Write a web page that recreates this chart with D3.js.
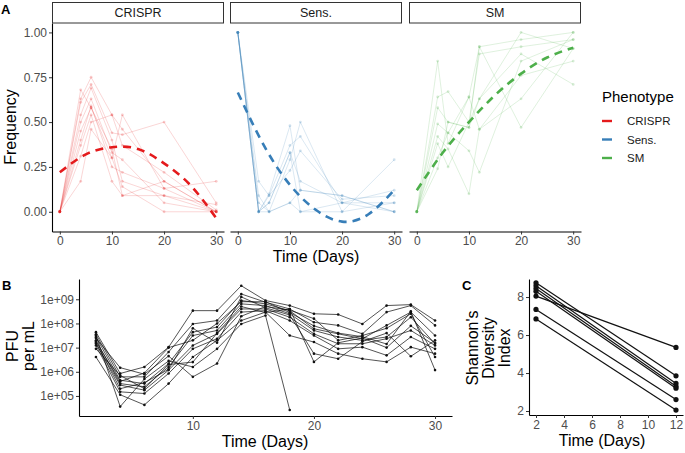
<!DOCTYPE html>
<html>
<head>
<meta charset="utf-8">
<script src="https://cdn.jsdelivr.net/npm/d3@7"></script>
<style>
  body { margin: 0; background: #fff; }
  svg { font-family: "Liberation Sans", Arial, sans-serif; }
</style>
</head>
<body>
<svg id="chart" width="685" height="453"></svg>
<script>
// ---- panel A data: phenotype frequency per replicate
var sampleDays = [0, 4, 6, 10, 12, 20, 30];
var phenotypes = ["CRISPR", "Sens.", "SM"];
var phenoColors = ["#E41A1C", "#377EB8", "#4DAF4A"];

var crisprRuns = [
  [0, 0.68, 0.58, 0.30, 0.54, 0.13, 0.00],
  [0, 0.63, 0.75, 0.54, 0.46, 0.17, 0.00],
  [0, 0.61, 0.71, 0.44, 0.43, 0.50, 0.05],
  [0, 0.54, 0.69, 0.40, 0.17, 0.09, 0.00],
  [0, 0.50, 0.63, 0.33, 0.29, 0.05, 0.00],
  [0, 0.40, 0.59, 0.25, 0.22, 0.13, 0.17],
  [0, 0.37, 0.54, 0.17, 0.09, 0.17, 0.00],
  [0, 0.31, 0.50, 0.54, 0.37, 0.22, 0.01],
  [0, 0.17, 0.46, 0.30, 0.14, 0.00, 0.00],
  [0, 0.45, 0.58, 0.35, 0.09, 0.09, 0.04]
];
var sensRuns = [
  [1, 0.00, 0.09, 0.37, 0.42, 0.05, 0.00],
  [1, 0.00, 0.05, 0.33, 0.17, 0.05, 0.12],
  [1, 0.05, 0.00, 0.05, 0.00, 0.00, 0.05],
  [1, 0.00, 0.10, 0.48, 0.12, 0.09, 0.00],
  [1, 0.09, 0.00, 0.29, 0.50, 0.00, 0.29],
  [1, 0.17, 0.09, 0.23, 0.34, 0.07, 0.09],
  [1, 0.00, 0.00, 0.05, 0.12, 0.09, 0.00],
  [1, 0.00, 0.05, 0.33, 0.00, 0.05, 0.05]
];
var smRuns = [
  [0, 0.84, 0.38, 0.64, 0.92, 0.96, 1.00],
  [0, 0.64, 0.67, 0.50, 0.88, 0.92, 0.96],
  [0, 0.58, 0.50, 0.47, 0.63, 1.00, 0.91],
  [0, 0.49, 0.44, 0.34, 0.22, 0.84, 0.96],
  [0, 0.42, 0.35, 0.10, 0.46, 0.76, 0.84],
  [0, 0.38, 0.25, 0.50, 0.63, 0.88, 0.71],
  [0, 0.24, 0.50, 0.47, 0.92, 0.47, 0.91],
  [0, 0.30, 0.44, 0.64, 0.46, 0.63, 1.00]
];

// smooth trend per phenotype
var fitDays = [0, 5, 10, 15, 20, 25, 30];
var crisprFit = [0.22, 0.32, 0.36, 0.35, 0.27, 0.15, -0.035];
var sensFit = [0.665, 0.37, 0.15, 0.01, -0.055, -0.015, 0.12];
var smFit = [0.12, 0.33, 0.50, 0.65, 0.77, 0.86, 0.915];

// ---- panel B data: log10 PFU per mL, days 2..30
var pfuDays = [2, 4, 6, 8, 10, 12, 14, 16, 18, 20, 22, 24, 26, 28, 30];
var pfuLog = [
  [7.64, 5.93, 6.20, 7.02, 8.53, 8.53, 9.56, 8.95, 8.74, 8.40, 8.37, 7.98, 8.74, 8.78, 8.12],
  [7.55, 5.79, 5.79, 6.82, 7.98, 8.12, 9.22, 8.88, 8.60, 8.05, 7.92, 7.57, 8.47, 8.74, 7.92],
  [7.44, 5.65, 5.51, 6.34, 7.64, 7.85, 8.95, 8.81, 8.53, 7.78, 7.57, 7.37, 7.92, 8.47, 7.50],
  [7.30, 5.51, 5.38, 6.20, 7.50, 7.71, 8.81, 8.74, 8.40, 7.71, 7.44, 7.30, 7.44, 8.26, 7.16],
  [7.16, 5.45, 5.24, 6.07, 7.09, 7.57, 8.60, 8.60, 8.26, 7.57, 7.16, 7.16, 7.37, 7.71, 7.09],
  [7.09, 5.17, 5.10, 5.93, 6.95, 7.37, 8.47, 8.53, 8.12, 7.50, 6.95, 7.02, 6.68, 7.44, 6.95],
  [6.61, 5.05, 4.63, 5.51, 6.61, 7.30, 8.12, 8.47, 7.50, 7.23, 6.75, 6.54, 6.41, 7.02, 6.75],
  [7.50, 4.56, 5.70, 6.45, 6.20, 6.95, 7.98, 8.33, 4.42],
  [7.40, 6.17, 5.90, 6.65, 5.79, 6.34, 8.30, 8.70, 8.55, 8.20, 7.30, 7.50, 7.80, 8.40, 6.61],
  [7.25, 5.60, 5.95, 7.00, 7.30, 8.00, 8.90, 8.90, 8.45, 7.90, 7.60, 7.45, 7.15, 8.50, 6.07],
  [7.20, 5.30, 5.55, 6.10, 7.80, 7.20, 9.10, 8.65, 8.35, 6.75, 6.54, 7.25, 7.60, 6.64, 7.30],
  [6.95, 5.85, 5.30, 6.30, 6.40, 7.60, 8.70, 8.45, 8.60, 6.41, 7.20, 7.40, 7.00, 7.90, 7.20]
];
var pfuTicks = [1e5, 1e6, 1e7, 1e8, 1e9];

// ---- panel C data: Shannon diversity at day 2 and day 12
var divDays = [2, 12];
var divDay2 = [8.75, 8.60, 8.45, 8.30, 8.05, 7.35, 6.85];
var divDay12 = [3.85, 3.45, 3.30, 3.20, 5.35, 2.60, 2.05];

var svg = d3.select("#chart");
var axisCol = "#333";
var tickTextCol = "#4d4d4d";

function styleAxis(g) {
  g.select(".domain").attr("stroke", "#000").attr("stroke-width", 1.1);
  g.selectAll(".tick line").attr("stroke", axisCol).attr("stroke-width", 1);
  g.selectAll(".tick text").attr("fill", tickTextCol).style("font-size", "12px");
}

// ================= Panel A =================
var facetLeft = [52, 230, 409];
var facetW = 172;
var aTop = 23, aBottom = 231.5;
var runsByPheno = [crisprRuns, sensRuns, smRuns];
var fitsByPheno = [crisprFit, sensFit, smFit];

var xA = d3.scaleLinear().domain([-1.5, 31.5]).range([0, facetW]);
var yA = d3.scaleLinear().domain([-0.11, 1.0525]).range([aBottom, aTop]);

phenotypes.forEach(function(p, i) {
  var g = svg.append("g").attr("transform", "translate(" + facetLeft[i] + ",0)");
  var col = phenoColors[i];

  // strip
  g.append("rect").attr("x", 0.5).attr("y", 2.5).attr("width", facetW - 1).attr("height", 20.5)
    .attr("fill", "#fff").attr("stroke", "#333").attr("stroke-width", 1);
  g.append("text").attr("x", facetW / 2).attr("y", 17).attr("text-anchor", "middle")
    .attr("fill", "#1a1a1a").style("font-size", "12.5px").text(p);

  var line = d3.line().x(function(d, k) { return xA(sampleDays[k]); }).y(function(d) { return yA(d); });
  runsByPheno[i].forEach(function(run) {
    g.append("path").attr("d", line(run)).attr("fill", "none")
      .attr("stroke", col).attr("stroke-opacity", 0.18).attr("stroke-width", 1);
    g.selectAll(null).data(run).enter().append("circle")
      .attr("cx", function(d, k) { return xA(sampleDays[k]); })
      .attr("cy", function(d) { return yA(d); })
      .attr("r", 1.4).attr("fill", col).attr("fill-opacity", 0.22);
  });

  var fitLine = d3.line().curve(d3.curveNatural)
    .x(function(d, k) { return xA(fitDays[k]); }).y(function(d) { return yA(d); });
  g.append("path").attr("d", fitLine(fitsByPheno[i])).attr("fill", "none")
    .attr("stroke", col).attr("stroke-width", 2.6).attr("stroke-dasharray", "8,6");

  var ax = g.append("g").attr("transform", "translate(0," + aBottom + ")")
    .call(d3.axisBottom(xA).tickValues([0, 10, 20, 30]).tickSize(3).tickSizeOuter(0).tickPadding(2));
  styleAxis(ax);

  if (i === 0) {
    var ay = g.append("g")
      .call(d3.axisLeft(yA).tickValues([0, 0.25, 0.5, 0.75, 1]).tickFormat(d3.format(".2f"))
        .tickSize(3).tickSizeOuter(0).tickPadding(2));
    styleAxis(ay);
  }
});

svg.append("text").attr("transform", "translate(16,127) rotate(-90)").attr("text-anchor", "middle")
  .style("font-size", "16px").attr("fill", "#000").text("Frequency");
svg.append("text").attr("x", 316).attr("y", 262).attr("text-anchor", "middle")
  .style("font-size", "16px").attr("fill", "#000").text("Time (Days)");
svg.append("text").attr("x", 1).attr("y", 14).style("font-size", "13px").style("font-weight", "bold").text("A");

// legend
var leg = svg.append("g").attr("transform", "translate(602,0)");
leg.append("text").attr("x", 0).attr("y", 102).style("font-size", "15px").text("Phenotype");
phenotypes.forEach(function(p, i) {
  var ly = 121 + i * 18.5;
  leg.append("line").attr("x1", 0).attr("x2", 10).attr("y1", ly).attr("y2", ly)
    .attr("stroke", phenoColors[i]).attr("stroke-width", 2.4);
  leg.append("text").attr("x", 25).attr("y", ly + 4).style("font-size", "11.5px").attr("fill", "#1a1a1a").text(p);
});

// ================= Panel B =================
var bLeft = 79, bRight = 452, bTop = 279, bBottom = 416;
var xB = d3.scaleLinear().domain([0.6, 31.4]).range([bLeft, bRight]);
var yB = d3.scaleLog().domain([Math.pow(10, 4.17), Math.pow(10, 9.84)]).range([bBottom, bTop]);

var pfuLine = d3.line().x(function(d, k) { return xB(pfuDays[k]); }).y(function(d) { return yB(Math.pow(10, d)); });
pfuLog.forEach(function(run) {
  svg.append("path").attr("d", pfuLine(run)).attr("fill", "none")
    .attr("stroke", "#111").attr("stroke-opacity", 0.8).attr("stroke-width", 0.9);
  svg.selectAll(null).data(run).enter().append("circle")
    .attr("cx", function(d, k) { return xB(pfuDays[k]); })
    .attr("cy", function(d) { return yB(Math.pow(10, d)); })
    .attr("r", 1.3).attr("fill", "#111");
});

var bx = svg.append("g").attr("transform", "translate(0," + bBottom + ")")
  .call(d3.axisBottom(xB).tickValues([10, 20, 30]).tickSize(3).tickSizeOuter(0).tickPadding(2));
styleAxis(bx);
var by = svg.append("g").attr("transform", "translate(" + bLeft + ",0)")
  .call(d3.axisLeft(yB).tickValues(pfuTicks)
    .tickFormat(function(d) { return "1e+0" + Math.round(Math.log10(d)); })
    .tickSize(3).tickSizeOuter(0).tickPadding(2));
styleAxis(by);

var bTitle = svg.append("text").attr("transform", "translate(0,346) rotate(-90)")
  .attr("text-anchor", "middle").style("font-size", "16px");
bTitle.append("tspan").attr("x", 0).attr("y", 18).text("PFU");
bTitle.append("tspan").attr("x", 0).attr("y", 34).text("per mL");
svg.append("text").attr("x", 265).attr("y", 447).attr("text-anchor", "middle")
  .style("font-size", "16px").text("Time (Days)");
svg.append("text").attr("x", 2).attr("y", 290).style("font-size", "13px").style("font-weight", "bold").text("B");

// ================= Panel C =================
var cLeft = 529, cRight = 683, cTop = 279, cBottom = 415;
var xC = d3.scaleLinear().domain([1.5, 12.5]).range([cLeft, cRight]);
var yC = d3.scaleLinear().domain([1.79, 8.95]).range([cBottom, cTop]);

divDay2.forEach(function(v, i) {
  var pair = [v, divDay12[i]];
  svg.append("line")
    .attr("x1", xC(divDays[0])).attr("y1", yC(pair[0]))
    .attr("x2", xC(divDays[1])).attr("y2", yC(pair[1]))
    .attr("stroke", "#111").attr("stroke-width", 1.2);
  svg.selectAll(null).data(pair).enter().append("circle")
    .attr("cx", function(d, k) { return xC(divDays[k]); })
    .attr("cy", function(d) { return yC(d); })
    .attr("r", 2.6).attr("fill", "#111");
});

var cx = svg.append("g").attr("transform", "translate(0," + cBottom + ")")
  .call(d3.axisBottom(xC).tickValues([2, 4, 6, 8, 10, 12]).tickSize(3).tickSizeOuter(0).tickPadding(2));
styleAxis(cx);
var cy = svg.append("g").attr("transform", "translate(" + cLeft + ",0)")
  .call(d3.axisLeft(yC).tickValues([2, 4, 6, 8]).tickSize(3).tickSizeOuter(0).tickPadding(2));
styleAxis(cy);

var cTitle = svg.append("text").attr("transform", "translate(0,348) rotate(-90)")
  .attr("text-anchor", "middle").style("font-size", "16px");
cTitle.append("tspan").attr("x", 0).attr("y", 478).text("Shannon's");
cTitle.append("tspan").attr("x", 0).attr("y", 494).text("Diversity");
cTitle.append("tspan").attr("x", 0).attr("y", 510).text("Index");
svg.append("text").attr("x", 602).attr("y", 446).attr("text-anchor", "middle")
  .style("font-size", "16px").text("Time (Days)");
svg.append("text").attr("x", 462).attr("y", 290).style("font-size", "13px").style("font-weight", "bold").text("C");
</script>
</body>
</html>
